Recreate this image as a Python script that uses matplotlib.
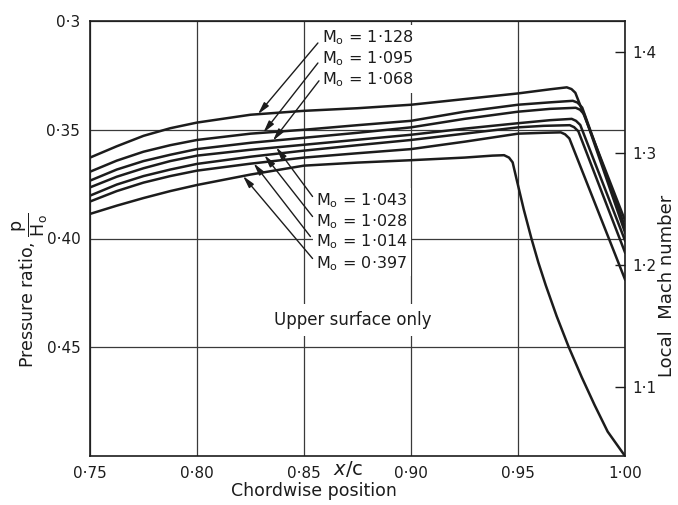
import numpy as np
import matplotlib
matplotlib.use("Agg")
import matplotlib.pyplot as plt

# chordwise stations on the rising part of the curves
x_rise = [0.75, 0.7625, 0.775, 0.7875, 0.80, 0.825, 0.85, 0.875, 0.90, 0.925]

# upper-surface pressure ratio p/H0, one curve per free-stream Mach number
x_m1128 = x_rise + [0.95, 0.965, 0.9728, 0.9750, 0.9768, 1.00]
p_m1128 = [0.3628, 0.3576, 0.3528, 0.3493, 0.3467, 0.3431, 0.3413, 0.3401, 0.3385, 0.3359,
           0.3333, 0.3314, 0.3305, 0.3313, 0.3330, 0.3917]

x_m1095 = x_rise + [0.95, 0.965, 0.9756, 0.9778, 0.9800, 1.00]
p_m1095 = [0.3693, 0.3642, 0.3601, 0.3571, 0.3547, 0.3518, 0.3500, 0.3479, 0.3459, 0.3417,
           0.3385, 0.3374, 0.3367, 0.3375, 0.3398, 0.3947]

x_m1068 = x_rise + [0.95, 0.965, 0.9770, 0.9790, 0.9810, 1.00]
p_m1068 = [0.3734, 0.3683, 0.3644, 0.3615, 0.3589, 0.3560, 0.3537, 0.3514, 0.3489, 0.3450,
           0.3417, 0.3404, 0.3399, 0.3408, 0.3430, 0.3972]

x_m1043 = x_rise + [0.95, 0.965, 0.9751, 0.9771, 0.9791, 1.00]
p_m1043 = [0.3765, 0.3716, 0.3677, 0.3644, 0.3619, 0.3592, 0.3569, 0.3546, 0.3523, 0.3495,
           0.3470, 0.3456, 0.3450, 0.3459, 0.3478, 0.4009]

x_m1028 = x_rise + [0.95, 0.962, 0.9742, 0.9762, 0.9782, 1.00]
p_m1028 = [0.3803, 0.3752, 0.3713, 0.3683, 0.3657, 0.3624, 0.3596, 0.3571, 0.3547, 0.3518,
           0.3489, 0.3482, 0.3479, 0.3488, 0.3507, 0.4064]

x_m1014 = x_rise + [0.95, 0.962, 0.9700, 0.9720, 0.9740, 1.00]
p_m1014 = [0.3830, 0.3782, 0.3743, 0.3713, 0.3688, 0.3656, 0.3628, 0.3608, 0.3589, 0.3555,
           0.3518, 0.3514, 0.3512, 0.3521, 0.3540, 0.4188]

x_m0997 = x_rise + [0.938, 0.9435, 0.9458, 0.9475, 0.9493, 0.9527, 0.9563, 0.9595, 0.9630,
                    0.9681, 0.9737, 0.9798, 0.9858, 0.9919, 1.00]
p_m0997 = [0.3887, 0.3849, 0.3814, 0.3782, 0.3754, 0.3706, 0.3665, 0.3651, 0.3640, 0.3628,
           0.3619, 0.3617, 0.3628, 0.3650, 0.3726, 0.3867, 0.4001, 0.4110, 0.4216,
           0.4358, 0.4499, 0.4638, 0.4766, 0.4888, 0.5000]

upper_labels = ["1·128", "1·095", "1·068"]
lower_labels = ["1·043", "1·028", "1·014", "0·397"]

x_ticks = [0.75, 0.80, 0.85, 0.90, 0.95, 1.00]
x_ticklabels = ["0·75", "0·80", "0·85", "0·90", "0·95", "1·00"]
p_ticks = [0.30, 0.35, 0.40, 0.45]
p_ticklabels = ["0·3", "0·35", "0·40", "0·45"]
mach_ticks = [1.1, 1.2, 1.3, 1.4]
mach_ticklabels = ["1·1", "1·2", "1·3", "1·4"]

ink = "#1c1c1c"


def mach_to_p(m):
    m = np.asarray(m, dtype=float)
    return (1 + 0.2 * m ** 2) ** -3.5


fig = plt.figure(figsize=(6.78, 5.05), dpi=100)
ax = fig.add_axes([90 / 678, 49 / 505, 535 / 678, 435 / 505])

curves = [(x_m1128, p_m1128), (x_m1095, p_m1095), (x_m1068, p_m1068),
          (x_m1043, p_m1043), (x_m1028, p_m1028), (x_m1014, p_m1014),
          (x_m0997, p_m0997)]
for xs, ps in curves:
    ax.plot(xs, ps, color=ink, lw=1.8, solid_joinstyle="round", zorder=3)

ax.set_xlim(0.75, 1.00)
ax.set_ylim(0.50, 0.30)
ax.set_xticks(x_ticks)
ax.set_xticklabels(x_ticklabels)
ax.set_yticks(p_ticks)
ax.set_yticklabels(p_ticklabels)
ax.tick_params(length=0, labelsize=11, colors=ink, pad=7)
ax.grid(True, color="#3a3a3a", lw=0.9)
ax.set_axisbelow(True)
for s in ax.spines.values():
    s.set_color(ink)
    s.set_linewidth(1.2)
    s.set_zorder(6)

ax2 = ax.twinx()
ax2.set_ylim(0.50, 0.30)
ax2.set_yticks(mach_to_p(mach_ticks))
ax2.set_yticklabels(mach_ticklabels)
ax2.tick_params(axis="y", direction="in", length=7, width=1.0, colors=ink,
                labelsize=11, pad=5)
for s in ax2.spines.values():
    s.set_visible(False)

arrow = dict(arrowstyle="-|>,head_length=0.6,head_width=0.15", color=ink, lw=1.0,
             shrinkA=0, shrinkB=0, mutation_scale=12)
box = dict(facecolor="white", edgecolor="none", pad=2.5)

# upper group, arrows down-left onto the three fastest curves
upper_curves = curves[:3]
upper_text_y = [0.3078, 0.3174, 0.3271]
upper_start = [(0.8565, 0.3101), (0.8565, 0.3193), (0.8570, 0.3275)]
upper_end_x = [0.8285, 0.8310, 0.8355]
for lab, (xs, ps), ty, st, ex in zip(upper_labels, upper_curves, upper_text_y,
                                     upper_start, upper_end_x):
    ax.text(0.8585, ty, r"M$_\mathregular{o}$ = " + lab, fontsize=11.5, color=ink,
            va="center", ha="left", bbox=box, zorder=4)
    ax.annotate("", xy=(ex, np.interp(ex, xs, ps)), xytext=st, arrowprops=arrow,
                zorder=5)

# lower group, arrows up-left onto the four slower curves
lower_curves = curves[3:]
lower_text_y = [0.3826, 0.3922, 0.4014, 0.4115]
lower_start = [(0.8540, 0.3807), (0.8540, 0.3899), (0.8530, 0.3991), (0.8540, 0.4092)]
lower_end_x = [0.8370, 0.8315, 0.8265, 0.8215]
for lab, (xs, ps), ty, st, ex in zip(lower_labels, lower_curves, lower_text_y,
                                     lower_start, lower_end_x):
    ax.text(0.8557, ty, r"M$_\mathregular{o}$ = " + lab, fontsize=11.5, color=ink,
            va="center", ha="left", bbox=box, zorder=4)
    ax.annotate("", xy=(ex, np.interp(ex, xs, ps)), xytext=st, arrowprops=arrow,
                zorder=5)

ax.text(0.873, 0.4376, "Upper surface only", fontsize=12, color=ink,
        ha="center", va="center", bbox=dict(facecolor="white", edgecolor="none", pad=5),
        zorder=4)

fig.text(348 / 678, 1 - 469 / 505, r"$x$/c", fontsize=14, color=ink,
         ha="center", va="center")
fig.text(314 / 678, 1 - 491 / 505, "Chordwise position", fontsize=12.5, color=ink,
         ha="center", va="center")
fig.text(30 / 678, 1 - 290 / 505,
         r"Pressure ratio, $\dfrac{\mathregular{p}}{\mathregular{H_o}}$",
         fontsize=12.5, color=ink, ha="center", va="center", rotation=90)
fig.text(667 / 678, 1 - 286 / 505, "Local  Mach number", fontsize=13, color=ink,
         ha="center", va="center", rotation=90)

fig.savefig("out.png", dpi=100, facecolor="white")
